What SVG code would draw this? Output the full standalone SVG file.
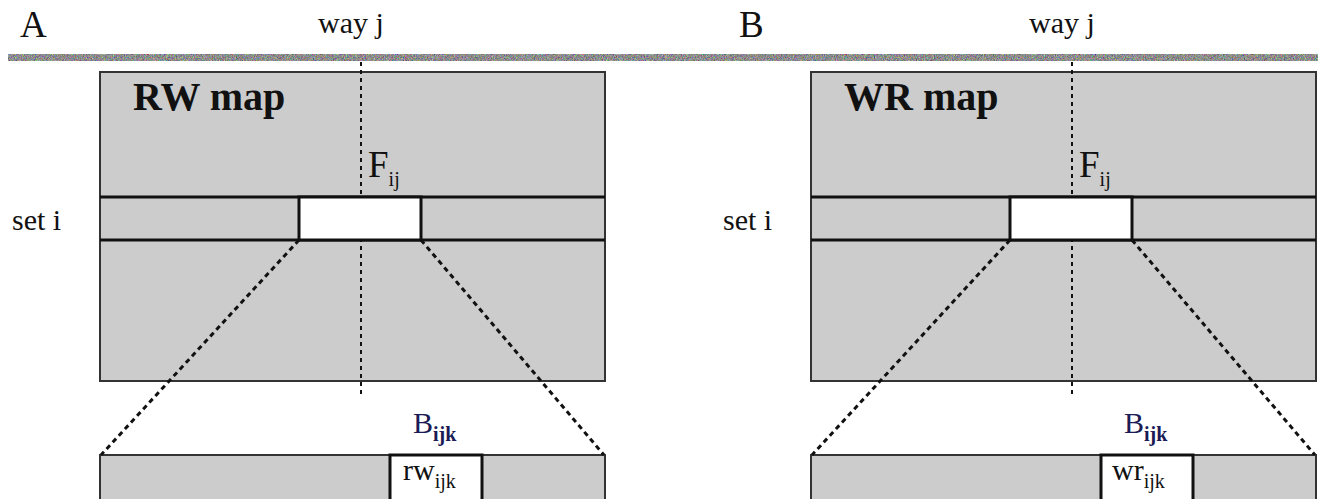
<svg xmlns="http://www.w3.org/2000/svg" width="1323" height="499" viewBox="0 0 1323 499" font-family="'Liberation Serif', 'Times New Roman', serif">
<defs>
<filter id="noise" x="0" y="0" width="100%" height="100%" color-interpolation-filters="sRGB">
<feTurbulence type="fractalNoise" baseFrequency="1.1 0.7" numOctaves="2" seed="5" result="t"/>
<feComponentTransfer in="t" result="g">
<feFuncR type="discrete" tableValues="0.15 0.35 0.5 0.6 0.75 0.9"/>
<feFuncG type="discrete" tableValues="0.15 0.35 0.5 0.6 0.75 0.9"/>
<feFuncB type="discrete" tableValues="0.15 0.35 0.5 0.6 0.75 0.9"/>
<feFuncA type="linear" slope="0" intercept="1"/>
</feComponentTransfer>
<feComposite in="g" in2="SourceGraphic" operator="in"/>
</filter>
</defs>
<style>
text{fill:#111}
.map{fill:#cccccc;stroke:#333;stroke-width:2}
.band{fill:none;stroke:#111;stroke-width:3}
.hole{fill:#fff;stroke:#111;stroke-width:3}
.vdash{stroke:#111;stroke-width:2;stroke-dasharray:4 4;fill:none}
.zoom{stroke:#111;stroke-width:3;stroke-dasharray:5 4;fill:none}
.lbl{font-size:30px}
.big{font-size:37px}
.title{font-size:40px;font-weight:bold}
.sub{font-size:20px}
.navy{fill:#1b1b55}
</style>
<rect x="8" y="54" width="1310" height="7" fill="#777" filter="url(#noise)"/>

<g id="panelA">
<text class="big" x="20" y="37">A</text>
<text class="lbl" x="318" y="33">way j</text>
<g id="rwmap">
<rect class="map" x="100" y="72" width="505" height="309"/>
<line class="vdash" x1="361" y1="62" x2="361" y2="395"/>
<line class="band" x1="100" y1="197" x2="605" y2="197"/>
<line class="band" x1="100" y1="240" x2="605" y2="240"/>
<rect class="hole" x="299" y="197" width="122" height="43"/>
<text class="title" x="133" y="110">RW map</text>
<text class="big" x="368" y="177">F<tspan class="sub" dy="9">ij</tspan></text>
</g>
<text class="lbl" x="12" y="230">set i</text>
<g id="rwblock">
<rect class="map" x="100" y="455" width="505" height="60"/>
<rect class="hole" x="390" y="455" width="92" height="60"/>
<text class="lbl" x="403" y="480">rw<tspan class="sub" dy="8">ijk</tspan></text>
<text class="lbl navy" x="413" y="433">B<tspan class="sub navy" dy="8" font-weight="bold">ijk</tspan></text>
</g>
</g>

<g id="panelB">
<text class="big" x="739" y="37">B</text>
<text class="lbl" x="1029" y="33">way j</text>
<g id="wrmap">
<rect class="map" x="811" y="72" width="505" height="309"/>
<line class="vdash" x1="1072" y1="62" x2="1072" y2="395"/>
<line class="band" x1="811" y1="197" x2="1316" y2="197"/>
<line class="band" x1="811" y1="240" x2="1316" y2="240"/>
<rect class="hole" x="1010" y="197" width="122" height="43"/>
<text class="title" x="844" y="110">WR map</text>
<text class="big" x="1079" y="177">F<tspan class="sub" dy="9">ij</tspan></text>
</g>
<text class="lbl" x="723" y="230">set i</text>
<g id="wrblock">
<rect class="map" x="811" y="455" width="505" height="60"/>
<rect class="hole" x="1101" y="455" width="92" height="60"/>
<text class="lbl" x="1112" y="480">wr<tspan class="sub" dy="8">ijk</tspan></text>
<text class="lbl navy" x="1124" y="433">B<tspan class="sub navy" dy="8" font-weight="bold">ijk</tspan></text>
</g>
</g>

<g id="connectors">
<line class="zoom" x1="299" y1="240" x2="101" y2="455"/>
<line class="zoom" x1="421" y1="240" x2="604" y2="455"/>
<line class="zoom" x1="1010" y1="240" x2="812" y2="455"/>
<line class="zoom" x1="1132" y1="240" x2="1315" y2="455"/>
</g>
</svg>
